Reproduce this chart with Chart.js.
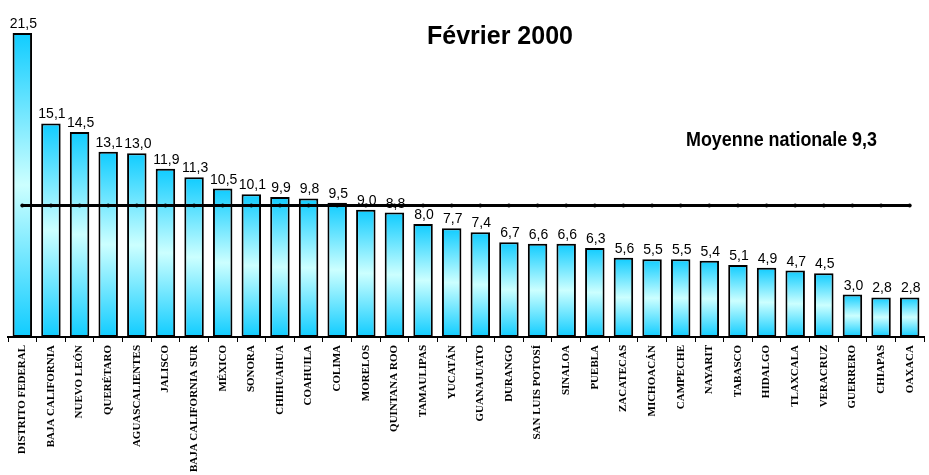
<!DOCTYPE html>
<html>
<head>
<meta charset="utf-8">
<script src="https://cdn.jsdelivr.net/npm/chart.js@4.4.1/dist/chart.umd.min.js"></script>
<style>
  html, body { margin: 0; padding: 0; background: #fff; }
  #wrap { width: 929px; height: 475px; position: relative; }
</style>
</head>
<body>
<div id="wrap"><canvas id="c" width="929" height="475"></canvas></div>
<script>
const states = ["DISTRITO FEDERAL","BAJA CALIFORNIA","NUEVO LEÓN","QUERÉTARO","AGUASCALIENTES","JALISCO","BAJA CALIFORNIA SUR","MÉXICO","SONORA","CHIHUAHUA","COAHUILA","COLIMA","MORELOS","QUINTANA ROO","TAMAULIPAS","YUCATÁN","GUANAJUATO","DURANGO","SAN LUIS POTOSÍ","SINALOA","PUEBLA","ZACATECAS","MICHOACÁN","CAMPECHE","NAYARIT","TABASCO","HIDALGO","TLAXCALA","VERACRUZ","GUERRERO","CHIAPAS","OAXACA"];
const values = [21.5,15.1,14.5,13.1,13.0,11.9,11.3,10.5,10.1,9.9,9.8,9.5,9.0,8.8,8.0,7.7,7.4,6.7,6.6,6.6,6.3,5.6,5.5,5.5,5.4,5.1,4.9,4.7,4.5,3.0,2.8,2.8];
const nationalMean = 9.3;
const titleText = "Février 2000";
const meanText = "Moyenne nationale 9,3";

const fmt = v => v.toFixed(1).replace('.', ',');

function barGradient(ctx) {
  const chart = ctx.chart;
  const y = chart.scales.y;
  if (!y || ctx.raw === undefined) return '#11ccff';
  const top = y.getPixelForValue(ctx.raw);
  const bottom = y.getPixelForValue(0);
  if (!isFinite(top) || !isFinite(bottom) || top === bottom) return '#11ccff';
  const g = chart.ctx.createLinearGradient(0, top, 0, bottom);
  g.addColorStop(0, '#10ccff');
  g.addColorStop(0.5, '#ccffff');
  g.addColorStop(1, '#10ccff');
  return g;
}

const labelPlugin = {
  id: 'barLabels',
  afterDatasetDraw(chart, args) {
    if (args.index !== 0) return;
    const c = chart.ctx;
    const meta = chart.getDatasetMeta(0);
    c.save();
    c.fillStyle = '#000';
    c.font = '14px "Liberation Sans", Arial, sans-serif';
    c.textAlign = 'center';
    c.textBaseline = 'alphabetic';
    meta.data.forEach((el, i) => {
      c.fillText(fmt(values[i]), el.x + 1, el.y - 5);
    });
    c.restore();
  }
};

const textPlugin = {
  id: 'texts',
  afterDraw(chart) {
    const c = chart.ctx;
    c.save();
    c.fillStyle = '#000';
    c.textBaseline = 'alphabetic';
    c.textAlign = 'center';
    c.font = 'bold 25px "Liberation Sans", Arial, sans-serif';
    c.fillText(titleText, 500, 44);
    c.textAlign = 'left';
    c.font = 'bold 21px "Liberation Sans", Arial, sans-serif';
    const w = c.measureText(meanText).width;
    const sx = 191 / w;
    c.translate(686, 146);
    c.scale(sx, 1);
    c.fillText(meanText, 0, 0);
    c.restore();
  }
};

new Chart(document.getElementById('c'), {
  type: 'bar',
  data: {
    labels: states,
    datasets: [
      {
        type: 'bar',
        data: values,
        order: 2,
        backgroundColor: barGradient,
        borderColor: '#000',
        borderWidth: 2,
        borderSkipped: false,
        barPercentage: 0.68,
        categoryPercentage: 1.0
      },
      {
        type: 'line',
        data: states.map(() => nationalMean),
        order: 1,
        borderColor: '#000',
        borderWidth: 3,
        pointRadius: 2,
        pointBackgroundColor: '#000',
        pointBorderColor: '#000',
        pointBorderWidth: 0,
        fill: false,
        tension: 0
      }
    ]
  },
  options: {
    responsive: false,
    animation: false,
    devicePixelRatio: 1,
    layout: { padding: { top: 33, left: 8, right: 5, bottom: 0 } },
    plugins: {
      legend: { display: false },
      tooltip: { enabled: false },
      title: { display: false }
    },
    scales: {
      y: { display: false, min: 0, max: 21.5 },
      x: {
        offset: true,
        afterFit(scale) { scale.height = 138; },
        grid: {
          offset: true,
          drawOnChartArea: false,
          drawTicks: true,
          tickLength: 5,
          color: '#000',
          lineWidth: 1
        },
        border: { display: true, color: '#000', width: 2 },
        ticks: {
          autoSkip: false,
          minRotation: 90,
          maxRotation: 90,
          padding: 3,
          color: '#000',
          font: { family: '"Liberation Serif", "Times New Roman", serif', size: 11, weight: 'bold' }
        }
      }
    }
  },
  plugins: [labelPlugin, textPlugin]
});
</script>
</body>
</html>
